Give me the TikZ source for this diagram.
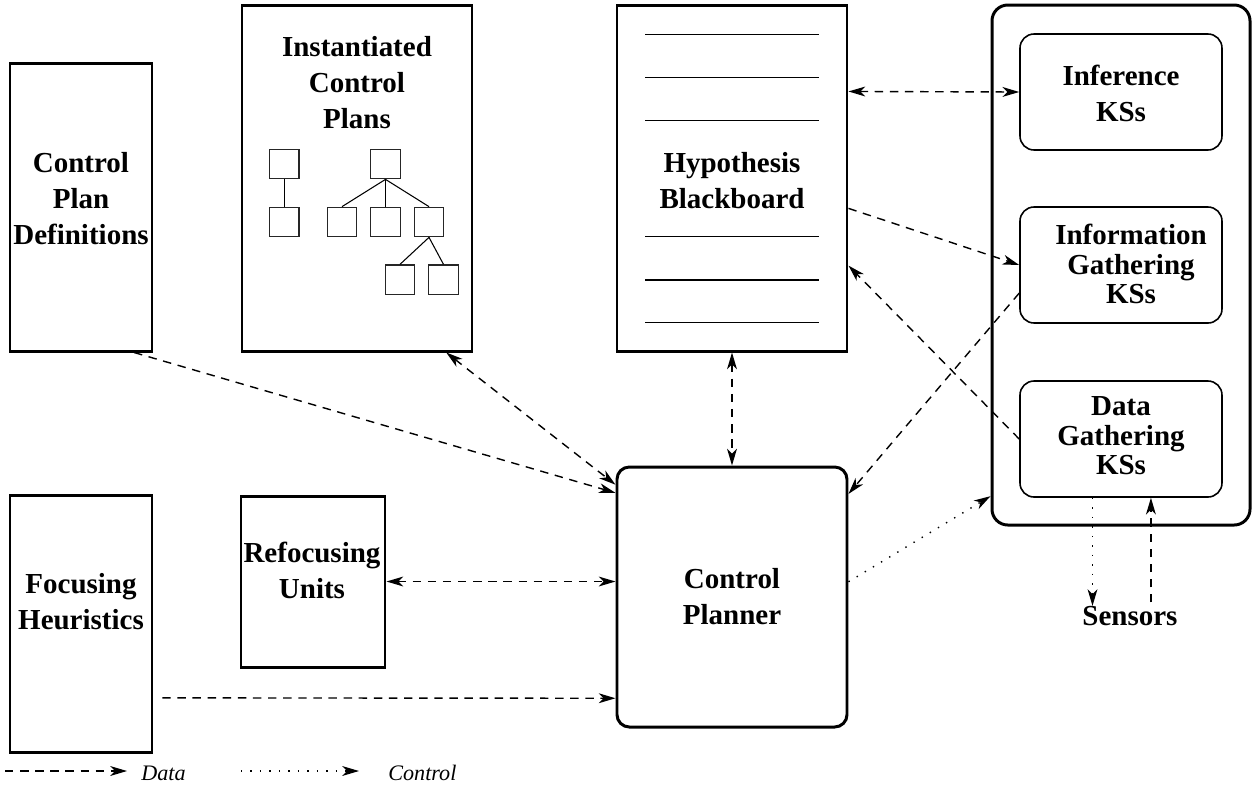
\documentclass[tikz,border=0pt]{standalone}
\usepackage{fontspec}
\setmainfont{Liberation Serif}
\usetikzlibrary{arrows.meta,calc,fit}

\tikzset{
  heavybox/.style={draw, line width=1.7pt, inner sep=0pt},
  roundheavy/.style={heavybox, rounded corners=7pt},
  ksbox/.style={draw, line width=0.9pt, rounded corners=8pt, inner sep=0pt},
  plannode/.style={draw=black!85, line width=0.7pt, inner sep=0pt, minimum size=0.59cm},
  planlink/.style={line width=0.6pt},
  ruling/.style={line width=0.7pt},
  lbl/.style={font=\fontsize{16.5}{20.5}\selectfont\bfseries, align=center, inner sep=0pt},
  kslbl/.style={font=\fontsize{16.5}{16.8}\selectfont\bfseries, align=center, inner sep=0pt},
  legendtxt/.style={font=\fontsize{12.6}{15}\selectfont\itshape, inner sep=0pt, anchor=west},
  head/.tip={Stealth[length=9.5pt, width=5.6pt, inset=2.8pt]},
  dataflow/.style={line width=0.8pt, dash pattern=on 4.8pt off 3.8pt, -head},
  databoth/.style={dataflow, head-head},
  ctrlflow/.style={line width=0.8pt, dash pattern=on 0.8pt off 4.6pt, -head},
}

\begin{document}
\begin{tikzpicture}[x=0.02cm, y=-0.02cm]
\useasboundingbox (0,0) rectangle (1252,796);

% ---- main boxes ----
\node[heavybox, fit={(10,63) (152,351)}] (cpd) {};
\node[heavybox, fit={(242,5) (472,351)}] (ic) {};
\node[heavybox, fit={(617,5) (847,351)}] (hb) {};
\node[roundheavy, fit={(617,467) (847,727)}] (cp) {};
\node[heavybox, fit={(241,496) (385,667)}] (ru) {};
\node[heavybox, fit={(10,495) (152,752)}] (fh) {};
\node[heavybox, rounded corners=9pt, fit={(992,5) (1250,525)}] (ks) {};
\node[ksbox, fit={(1020,34) (1222,150)}] (inf) {};
\node[ksbox, fit={(1020,207) (1222,323)}] (ig) {};
\node[ksbox, fit={(1020,381) (1222,497)}] (dg) {};

% ---- labels ----
\node[lbl] (cpdl) at (81,199) {Control\\Plan\\Definitions};
\node[lbl] (icl) at (357,83) {Instantiated\\Control\\Plans};
\node[lbl] (hbl) at (732,180.5) {Hypothesis\\Blackboard};
\node[lbl] (cpl) at (732,597) {Control\\Planner};
\node[lbl] (rul) at (312,570) {Refocusing\\Units};
\node[lbl] (fhl) at (81,602) {Focusing\\Heuristics};
\node[lbl] (infl) at (1121,93) {Inference\\KSs};
\node[kslbl] (igl) at (1131,264) {Information\\Gathering\\KSs};
\node[kslbl] (dgl) at (1121,436) {Data\\Gathering\\KSs};
\node[lbl] (sns) at (1130,616) {Sensors};

% ---- blackboard rulings ----
\foreach \yy in {34.3,77.7,120.7,236.7,280,322.7}
  \draw[ruling] (645,\yy) -- (819,\yy);

% ---- instantiated plan trees ----
\node[plannode] (pa) at (284.3,164) {};
\node[plannode] (pb) at (284.3,222) {};
\node[plannode] (pr) at (385.5,164) {};
\node[plannode] (pc1) at (342,222) {};
\node[plannode] (pc2) at (385.5,222) {};
\node[plannode] (pc3) at (429,222) {};
\node[plannode] (pg1) at (400,279.7) {};
\node[plannode] (pg2) at (443.5,279.7) {};
\draw[planlink] (pa.south) -- (pb.north);
\draw[planlink] (pr.south) -- (pc1.north);
\draw[planlink] (pr.south) -- (pc2.north);
\draw[planlink] (pr.south) -- (pc3.north);
\draw[planlink] (pc3.south) -- (pg1.north);
\draw[planlink] (pc3.south) -- (pg2.north);

% ---- connectors ----
\draw[databoth] ($(hb.north east)!0.252!(hb.south east)$) -- (inf.west);
\draw[dataflow] ($(hb.north east)!0.587!(hb.south east)$) -- (ig.west);
\draw[dataflow] (dg.west) -- ($(hb.north east)!0.751!(hb.south east)$);
\draw[dataflow] ($(ig.north west)!0.739!(ig.south west)$) -- ($(cp.north east)!0.108!(cp.south east)$);
\draw[ctrlflow] ($(cp.north east)!0.442!(cp.south east)$) -- ($(ks.north west)!0.942!(ks.south west)$);
\draw[databoth] (hb.south) -- (cp.north);
\draw[databoth] ($(ic.south west)!0.883!(ic.south east)$) -- ($(cp.north west)!0.073!(cp.south west)$);
\draw[dataflow] ($(cpd.south west)!0.866!(cpd.south east)$) -- ($(cp.north west)!0.104!(cp.south west)$);
\draw[databoth] (ru.east) -- (ru.east -| cp.west);
\draw[dataflow, shorten <=5pt] ($(fh.north east)!0.786!(fh.south east)$) -- ($(cp.north west)!0.885!(cp.south west)$);
\coordinate (dgout) at ($(dg.south west)!0.36!(dg.south east)$);
\coordinate (dgin) at ($(dg.south west)!0.647!(dg.south east)$);
\draw[ctrlflow] (dgout) -- (dgout |- sns.north);
\draw[dataflow, shorten <=2pt] (dgin |- sns.north) -- (dgin);

% ---- legend ----
\coordinate (lda) at (5,771);
\coordinate (ldb) at (127,771);
\coordinate (lca) at (241,771);
\coordinate (lcb) at (359,771);
\draw[dataflow] (lda) -- (ldb);
\node[legendtxt] (ldt) at (141,773) {Data};
\draw[ctrlflow] (lca) -- (lcb);
\node[legendtxt] (lct) at (388,773) {Control};
\end{tikzpicture}
\end{document}
